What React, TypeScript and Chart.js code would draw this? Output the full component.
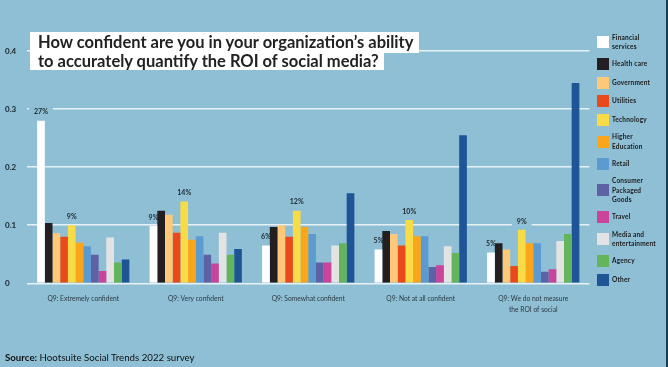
import React, { useEffect, useRef } from "react";
import { Chart, registerables } from "chart.js";

Chart.register(...registerables);

// ---------- data ----------
const categories: string[][] = [
  ["Q9: Extremely confident"],
  ["Q9: Very confident"],
  ["Q9: Somewhat confident"],
  ["Q9: Not at all confident"],
  ["Q9: We do not measure", "the ROI of social"],
];

const seriesNames = [
  "Financial services",
  "Health care",
  "Government",
  "Utilities",
  "Technology",
  "Higher Education",
  "Retail",
  "Consumer Packaged Goods",
  "Travel",
  "Media and entertainment",
  "Agency",
  "Other",
];

const legendLines: string[][] = [
  ["Financial", "services"],
  ["Health care"],
  ["Government"],
  ["Utilities"],
  ["Technology"],
  ["Higher", "Education"],
  ["Retail"],
  ["Consumer", "Packaged", "Goods"],
  ["Travel"],
  ["Media and", "entertainment"],
  ["Agency"],
  ["Other"],
];

const seriesColors = [
  "#ffffff",
  "#231f20",
  "#fdc878",
  "#e84a1b",
  "#f7dc48",
  "#f9a61b",
  "#5b9bd0",
  "#5d62a4",
  "#c9449a",
  "#e3e3e3",
  "#63b45b",
  "#1e5597",
];

const financial = [0.28, 0.099, 0.065, 0.058, 0.053];
const healthCare = [0.104, 0.125, 0.097, 0.09, 0.069];
const government = [0.086, 0.118, 0.1, 0.085, 0.058];
const utilities = [0.08, 0.087, 0.08, 0.065, 0.03];
const technology = [0.1, 0.141, 0.125, 0.109, 0.092];
const higherEducation = [0.07, 0.075, 0.097, 0.081, 0.069];
const retail = [0.064, 0.081, 0.085, 0.081, 0.069];
const consumerPackagedGoods = [0.049, 0.049, 0.036, 0.028, 0.02];
const travel = [0.021, 0.034, 0.036, 0.031, 0.024];
const mediaEntertainment = [0.079, 0.087, 0.065, 0.064, 0.073];
const agency = [0.036, 0.049, 0.069, 0.052, 0.085];
const other = [0.041, 0.059, 0.155, 0.255, 0.345];

const seriesValues = [
  financial,
  healthCare,
  government,
  utilities,
  technology,
  higherEducation,
  retail,
  consumerPackagedGoods,
  travel,
  mediaEntertainment,
  agency,
  other,
];

const financialLabels = ["27%", "9%", "6%", "5%", "5%"];
const technologyLabels = ["9%", "14%", "12%", "10%", "9%"];
const yTicks = [0, 0.1, 0.2, 0.3, 0.4];

const titleLines = [
  "How confident are you in your organization\u2019s ability",
  "to accurately quantify the ROI of social media?",
];

// ---------- styles ----------
const BG = "#8fbfd5";
const FONT = "Lato, 'Open Sans', sans-serif";

const labelPlugin = {
  id: "barLabels",
  beforeDatasetsDraw(chart: any) {
    const ctx = chart.ctx;
    ctx.save();
    ctx.font = `bold 7px ${FONT}`;
    const sets: [number, string[]][] = [
      [0, financialLabels],
      [4, technologyLabels],
    ];
    sets.forEach(([di, labels]) => {
      const meta = chart.getDatasetMeta(di);
      meta.data.forEach((el: any, i: number) => {
        const w = ctx.measureText(labels[i]).width;
        const cy = el.y - 8.5;
        ctx.fillStyle = BG;
        ctx.fillRect(el.x - w / 2 - 5, cy - 4.5, w + 10, 9);
      });
    });
    ctx.restore();
  },
  afterDatasetsDraw(chart: any) {
    const ctx = chart.ctx;
    ctx.save();
    ctx.font = `bold 7px ${FONT}`;
    ctx.fillStyle = "#1c2830";
    ctx.textAlign = "center";
    ctx.textBaseline = "middle";
    const sets: [number, string[]][] = [
      [0, financialLabels],
      [4, technologyLabels],
    ];
    sets.forEach(([di, labels]) => {
      const meta = chart.getDatasetMeta(di);
      meta.data.forEach((el: any, i: number) => {
        ctx.fillText(labels[i], el.x, el.y - 8.5);
      });
    });
    ctx.restore();
  },
};

export default function App() {
  const canvasRef = useRef<HTMLCanvasElement | null>(null);

  useEffect(() => {
    if (!canvasRef.current) return;
    Chart.defaults.font.family = FONT;
    const chart = new Chart(canvasRef.current, {
      type: "bar",
      data: {
        labels: categories,
        datasets: seriesNames.map((name, i) => ({
          label: name,
          data: seriesValues[i],
          backgroundColor: seriesColors[i],
          borderWidth: 0,
          barPercentage: 1,
          categoryPercentage: 0.82,
        })),
      },
      options: {
        responsive: false,
        animation: false,
        layout: { padding: { left: 5, right: 78.5, top: 51, bottom: 53.7 } },
        plugins: {
          legend: { display: false },
          tooltip: { enabled: false },
          title: { display: false },
        },
        scales: {
          x: {
            grid: { display: false, drawTicks: false },
            border: { display: false },
            ticks: {
              padding: 11,
              color: "#2b3a44",
              font: { size: 6.7, lineHeight: 1.5 },
              maxRotation: 0,
              autoSkip: false,
            },
            afterFit: (s: any) => {
              s.height = 30;
            },
          },
          y: {
            min: 0,
            max: 0.4,
            afterBuildTicks: (s: any) => {
              s.ticks = yTicks.map((v) => ({ value: v }));
            },
            grid: { color: "#e8f1f6", lineWidth: 1.5, drawTicks: false },
            border: { display: false },
            ticks: {
              crossAlign: "far",
              color: "#16232b",
              font: { size: 8, weight: "bold" },
              callback: (v: any) => (v === 0 ? "0" : String(v)),
            },
            afterFit: (s: any) => {
              s.width = 22;
            },
          },
        },
      },
      plugins: [labelPlugin],
    } as any);
    return () => chart.destroy();
  }, []);

  return (
    <div
      style={{
        position: "fixed",
        left: 0,
        top: 0,
        width: 668,
        height: 367,
        background: BG,
        overflow: "hidden",
        fontFamily: FONT,
      }}
    >
      <canvas
        ref={canvasRef}
        width={668}
        height={367}
        style={{ position: "absolute", left: 0, top: 0, width: 668, height: 367 }}
      />
      <div style={{ position: "absolute", left: 30, top: 32, color: "#222", fontWeight: 700, fontSize: 16.5 }}>
        <div style={{ background: "#fff", width: "fit-content", height: 21, lineHeight: "21px", padding: "0 6px 0 8px", whiteSpace: "nowrap" }}>
          {titleLines[0]}
        </div>
        <div style={{ background: "#fff", width: "fit-content", height: 17, lineHeight: "17px", padding: "0 5px 0 8px", whiteSpace: "nowrap" }}>
          {titleLines[1]}
        </div>
      </div>
      <div
        style={{
          position: "absolute",
          left: 597,
          top: 32.5,
          display: "flex",
          flexDirection: "column",
          gap: 6.5,
        }}
      >
        {legendLines.map((lines, i) => (
          <div key={i} style={{ display: "flex", alignItems: "center" }}>
            <div style={{ width: 12, height: 12, background: seriesColors[i], flex: "none" }} />
            <div
              style={{
                marginLeft: 3,
                fontSize: 6.5,
                lineHeight: "9.5px",
                fontWeight: 700,
                color: "#1a1a1a",
                letterSpacing: 0.2,
                whiteSpace: "nowrap",
              }}
            >
              {lines.map((l, j) => (
                <div key={j}>{l}</div>
              ))}
            </div>
          </div>
        ))}
      </div>
      <div style={{ position: "absolute", left: 5, top: 351, fontSize: 9.7, lineHeight: "12px", color: "#111", whiteSpace: "nowrap" }}>
        <span style={{ fontWeight: 700 }}>Source:</span> Hootsuite Social Trends 2022 survey
      </div>
      <div style={{ position: "absolute", left: 666, top: 0, width: 2, height: 367, background: "#1c3a4f" }} />
    </div>
  );
}
